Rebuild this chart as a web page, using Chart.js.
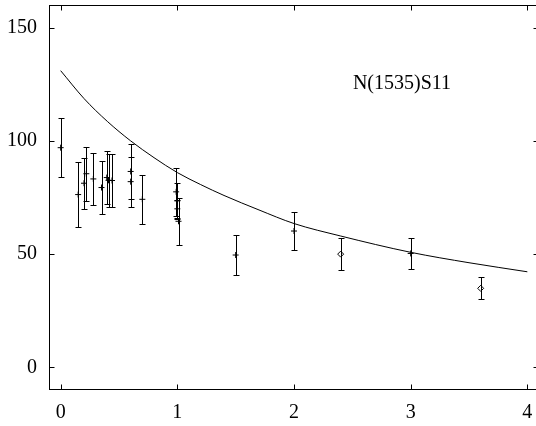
<!DOCTYPE html>
<html>
<head>
<meta charset="utf-8">
<script src="https://cdn.jsdelivr.net/npm/chart.js@4/dist/chart.umd.min.js"></script>
<style>
    html, body { margin: 0; padding: 0; background: #fff; overflow: hidden; }
    #grafico { display: block; }
</style>
</head>
<body>
<canvas id="grafico" width="539" height="426"></canvas>
<script>
// Pontos experimentais (x, valor, erro) - marcador "+"
const ptsX   = [0.0, 0.15, 0.2, 0.22, 0.28, 0.35, 0.395, 0.41, 0.44, 0.6, 0.6, 0.7, 0.99, 1.0, 1.0, 1.01, 1.5, 2.0, 3.0];
const ptsY   = [97, 76.3, 81.3, 85.5, 83.2, 79.4, 83.8, 82.6, 82.5, 86.5, 82, 74.2, 77.5, 73.5, 70, 64.5, 49.6, 60.2, 50.3];
const ptsErr = [13, 14.4, 11.3, 12, 11.5, 11.7, 11.8, 11.8, 11.7, 12, 11, 10.7, 10.7, 8, 4, 10.3, 9, 8.3, 6.9];

// Pontos com marcador losango
const diaX   = [2.4, 3.6];
const diaY   = [50, 34.9];
const diaErr = [7, 4.9];

// Curva teórica
const curvaX = [0, 0.2, 0.4, 0.6, 0.8, 1.0, 1.2, 1.4, 1.7, 2.0, 2.4, 3.0, 3.5, 4.0];
const curvaY = [131, 118.7, 108.6, 100, 92.6, 86, 80.7, 75.9, 69.5, 63.5, 58, 50.8, 46.2, 42.2];

const ticksX = [0, 1, 2, 3, 4];
const ticksY = [0, 50, 100, 150];
const rotulo = "N(1535)S11";

const fonte = { family: "'Liberation Serif', 'Times New Roman', serif", size: 20 };

function pares(xs, ys, errs) {
    return xs.map((x, i) => ({ x: x, y: ys[i], err: errs ? errs[i] : 0 }));
}

// Moldura, ticks internos, barras de erro e rótulo
const moldura = {
    id: "moldura",
    afterDatasetsDraw(chart) {
        const ctx = chart.ctx;
        const a = chart.chartArea;
        const sx = chart.scales.x, sy = chart.scales.y;
        const L = Math.round(a.left) + 0.5, R = Math.round(a.right) - 0.5;
        const T = Math.round(a.top) + 0.5, B = Math.round(a.bottom) - 0.5;
        ctx.save();
        ctx.strokeStyle = "#000";
        ctx.lineWidth = 1;

        // barras de erro
        chart.data.datasets.forEach(ds => {
            if (!ds.erro) return;
            ds.data.forEach(p => {
                const px = Math.round(sx.getPixelForValue(p.x)) + 0.5;
                const y1 = Math.round(sy.getPixelForValue(p.y + p.err)) + 0.5;
                const y2 = Math.round(sy.getPixelForValue(p.y - p.err)) + 0.5;
                ctx.beginPath();
                ctx.moveTo(px, y1); ctx.lineTo(px, y2);
                ctx.moveTo(px - 3, y1); ctx.lineTo(px + 3, y1);
                ctx.moveTo(px - 3, y2); ctx.lineTo(px + 3, y2);
                ctx.stroke();
            });
        });

        // caixa
        ctx.strokeRect(L, T, R - L, B - T);

        // ticks para dentro nos quatro lados
        ctx.beginPath();
        ticksX.forEach(v => {
            const px = Math.round(sx.getPixelForValue(v)) + 0.5;
            ctx.moveTo(px, B); ctx.lineTo(px, B - 5);
            ctx.moveTo(px, T); ctx.lineTo(px, T + 5);
        });
        ticksY.forEach(v => {
            const py = Math.round(sy.getPixelForValue(v)) + 0.5;
            ctx.moveTo(L, py); ctx.lineTo(L + 5, py);
            ctx.moveTo(R, py); ctx.lineTo(R - 5, py);
        });
        ctx.stroke();

        // rótulo
        ctx.fillStyle = "#000";
        ctx.font = fonte.size + "px " + fonte.family;
        ctx.textAlign = "center";
        ctx.textBaseline = "middle";
        ctx.fillText(rotulo, 402, 84);
        ctx.restore();
    }
};

window.onload = () => {
    new Chart(document.getElementById("grafico"), {
        type: "scatter",
        data: {
            datasets: [
                {
                    label: "curva",
                    type: "line",
                    data: pares(curvaX, curvaY),
                    borderColor: "#000",
                    borderWidth: 1,
                    pointRadius: 0,
                    fill: false,
                    cubicInterpolationMode: "monotone"
                },
                {
                    label: "dados",
                    data: pares(ptsX, ptsY, ptsErr),
                    erro: true,
                    pointStyle: "cross",
                    pointRadius: 3,
                    borderColor: "#000",
                    borderWidth: 1
                },
                {
                    label: "dados2",
                    data: pares(diaX, diaY, diaErr),
                    erro: true,
                    pointStyle: "rectRot",
                    pointRadius: 3,
                    borderColor: "#000",
                    backgroundColor: "#fff",
                    borderWidth: 1
                }
            ]
        },
        options: {
            responsive: false,
            animation: false,
            devicePixelRatio: 1,
            layout: { autoPadding: false, padding: { top: 5, right: 0, left: 0, bottom: 0 } },
            plugins: { legend: { display: false }, tooltip: { enabled: false } },
            scales: {
                x: {
                    type: "linear",
                    min: -0.1,
                    max: 4.1,
                    afterBuildTicks: s => { s.ticks = ticksX.map(v => ({ value: v })); },
                    afterFit: s => { s.height = 36; s.paddingLeft = 0; s.paddingRight = 0; },
                    grid: { display: false, drawTicks: false },
                    border: { display: false },
                    ticks: { font: fonte, color: "#000", padding: 11, maxRotation: 0 }
                },
                y: {
                    type: "linear",
                    min: -10,
                    max: 160,
                    afterBuildTicks: s => { s.ticks = ticksY.map(v => ({ value: v })); },
                    afterFit: s => { s.width = 49; s.paddingTop = 0; s.paddingBottom = 0; },
                    grid: { display: false, drawTicks: false },
                    border: { display: false },
                    ticks: { font: fonte, color: "#000", padding: 12 }
                }
            }
        },
        plugins: [moldura]
    });
};
</script>
</body>
</html>
